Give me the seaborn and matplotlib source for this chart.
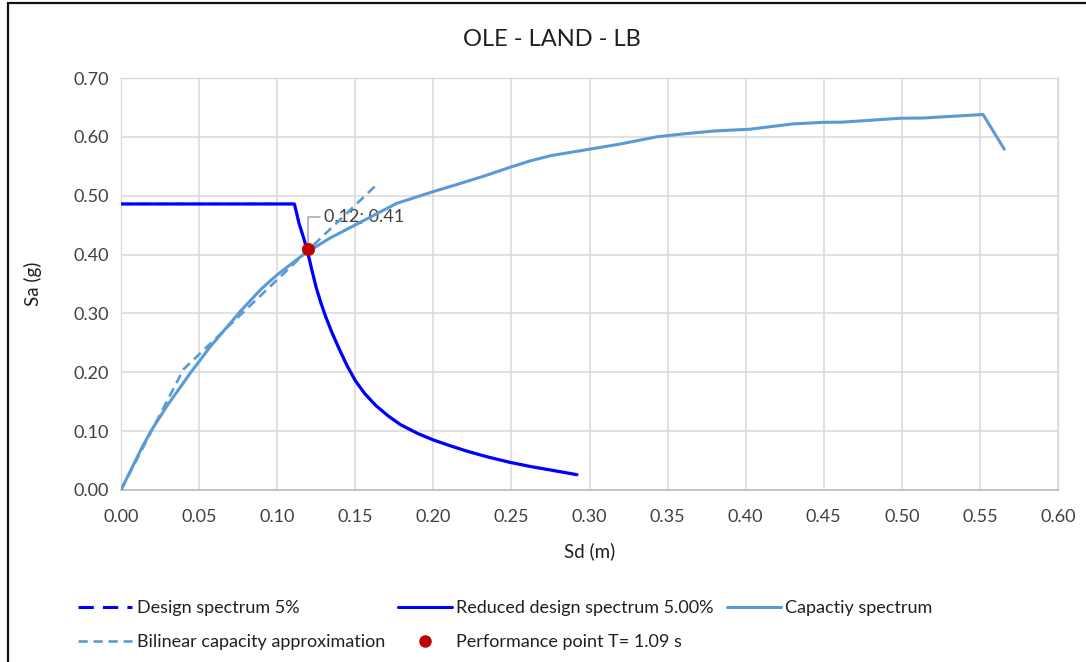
import matplotlib
matplotlib.use("Agg")
import matplotlib.pyplot as plt
import seaborn as sns
import pandas as pd
from matplotlib.lines import Line2D
from matplotlib.patches import Rectangle

# Reduced (and 5% design) demand spectrum, Sd [m] vs Sa [g]
sd_spectrum = [0.000, 0.111, 0.1125, 0.114, 0.1165, 0.1193, 0.122, 0.125, 0.128,
               0.131, 0.135, 0.140, 0.145, 0.150, 0.156, 0.163, 0.171, 0.179,
               0.190, 0.200, 0.211, 0.2215, 0.235, 0.249, 0.262, 0.275, 0.292]
sa_spectrum = [0.486, 0.486, 0.470, 0.453, 0.432, 0.407, 0.376, 0.344, 0.318,
               0.295, 0.268, 0.238, 0.210, 0.186, 0.164, 0.144, 0.126, 0.111,
               0.096, 0.085, 0.075, 0.066, 0.056, 0.047, 0.040, 0.034, 0.026]

# Capacity spectrum from pushover
sd_capacity = [0.000, 0.0132, 0.0196, 0.030, 0.0442, 0.057, 0.0772, 0.090, 0.0997,
               0.1178, 0.1338, 0.1498, 0.1765, 0.200, 0.215, 0.232, 0.250, 0.2618,
               0.275, 0.300, 0.320, 0.343, 0.360, 0.380, 0.4027, 0.418, 0.4305,
               0.4497, 0.462, 0.4988, 0.5135, 0.552, 0.5656]
sa_capacity = [0.000, 0.071, 0.102, 0.145, 0.198, 0.243, 0.306, 0.342, 0.365,
               0.402, 0.428, 0.450, 0.487, 0.507, 0.519, 0.533, 0.549, 0.559,
               0.568, 0.579, 0.588, 0.600, 0.605, 0.610, 0.613, 0.618, 0.622,
               0.6247, 0.625, 0.6316, 0.632, 0.638, 0.579]

# Bilinear idealisation of the capacity curve
sd_bilinear = [0.000, 0.040, 0.165]
sa_bilinear = [0.000, 0.205, 0.522]

# Performance point
sd_perf = [0.12]
sa_perf = [0.41]
perf_period = 1.09

x_ticks = [0.00, 0.05, 0.10, 0.15, 0.20, 0.25, 0.30, 0.35, 0.40, 0.45, 0.50, 0.55, 0.60]
y_ticks = [0.00, 0.10, 0.20, 0.30, 0.40, 0.50, 0.60, 0.70]

sns.set_theme(style="whitegrid")
plt.rcParams["font.family"] = ["Lato", "DejaVu Sans"]

spec_df = pd.DataFrame({"Sd": sd_spectrum, "Sa": sa_spectrum})
cap_df = pd.DataFrame({"Sd": sd_capacity, "Sa": sa_capacity})
bil_df = pd.DataFrame({"Sd": sd_bilinear, "Sa": sa_bilinear})
perf_df = pd.DataFrame({"Sd": sd_perf, "Sa": sa_perf})

W, H = 1086, 662
fig = plt.figure(figsize=(W / 100, H / 100), dpi=100)
fig.patch.set_facecolor("white")
ax = fig.add_axes([121 / W, 1 - 490 / H, (1058 - 121) / W, (490 - 78) / H])
ax.set_facecolor("white")

blue = "#0000FF"
light = "#5B9BD5"
red = "#C00000"

# design spectrum (coincides with the reduced one at 5% damping)
sns.lineplot(data=spec_df, x="Sd", y="Sa", sort=False, ax=ax, color=blue,
             linewidth=1.6, linestyle=(0, (5, 3)), zorder=2)
sns.lineplot(data=spec_df, x="Sd", y="Sa", sort=False, ax=ax, color=blue,
             linewidth=2.3, zorder=3)
sns.lineplot(data=cap_df, x="Sd", y="Sa", sort=False, ax=ax, color=light,
             linewidth=2.2, zorder=4)
sns.lineplot(data=bil_df, x="Sd", y="Sa", sort=False, ax=ax, color=light,
             linewidth=1.9, linestyle=(0, (3.5, 2.2)), zorder=4)
sns.scatterplot(data=perf_df, x="Sd", y="Sa", ax=ax, color=red, s=80,
                edgecolor=red, linewidth=0.5, zorder=6)

ax.annotate(f"{sd_perf[0]:.2f}; {sa_perf[0]:.2f}", xy=(sd_perf[0], sa_perf[0]),
            xytext=(16, 32), textcoords="offset pixels", ha="left", va="center",
            fontsize=13, color="#404040",
            arrowprops=dict(arrowstyle="-", color="#a6a6a6", lw=1.1,
                            shrinkA=1, shrinkB=4,
                            connectionstyle="angle,angleA=0,angleB=90,rad=0"))

ax.set_xlim(0, 0.60)
ax.set_ylim(0, 0.70)
ax.set_xticks(x_ticks)
ax.set_yticks(y_ticks)
ax.set_xticklabels([f"{v:.2f}" for v in x_ticks])
ax.set_yticklabels([f"{v:.2f}" for v in y_ticks])
ax.tick_params(axis="x", labelsize=13, colors="#404040", length=0, pad=14)
ax.tick_params(axis="y", labelsize=13, colors="#404040", length=0, pad=9)
ax.grid(True, color="#d9d9d9", linewidth=1.1)
for name, sp in ax.spines.items():
    sp.set_visible(True)
    sp.set_color("#d9d9d9")
    sp.set_linewidth(1.0)
ax.spines["bottom"].set_color("#bfbfbf")
ax.spines["bottom"].set_linewidth(1.3)

ax.set_xlabel("Sd (m)", fontsize=13.5, color="#202020", labelpad=12)
ax.set_ylabel("Sa (g)", fontsize=13.5, color="#202020", labelpad=22)
fig.text(552 / W, 1 - 40 / H, "OLE - LAND - LB", ha="center",
         va="center", fontsize=17, color="#202020")

handles = [
    Line2D([], [], color=blue, lw=2.2, linestyle=(0, (5, 3))),
    Line2D([], [], color=light, lw=1.9, linestyle=(0, (3.5, 2.2))),
    Line2D([], [], color=blue, lw=2.2),
    Line2D([], [], color=red, marker="o", linestyle="none", markersize=8),
    Line2D([], [], color=light, lw=2.2),
]
labels = [
    "Design spectrum 5%",
    "Bilinear capacity approximation",
    "Reduced design spectrum 5.00%",
    f"Performance point T= {perf_period:.2f} s",
    "Capactiy spectrum",
]
fig.legend(handles, labels, ncol=3, loc="upper left",
           bbox_to_anchor=(62 / W, 1 - 584 / H), frameon=False, fontsize=13,
           handlelength=3.0, handletextpad=0.25, columnspacing=0.7,
           labelspacing=1.0, labelcolor="#202020")

# Outer chart frame
fig.add_artist(Rectangle((8 / W, -0.1), 1.2, 1.1 - 3.5 / H, transform=fig.transFigure,
                         fill=False, edgecolor="#111111", linewidth=1.6))

fig.savefig("out.png", dpi=100)
